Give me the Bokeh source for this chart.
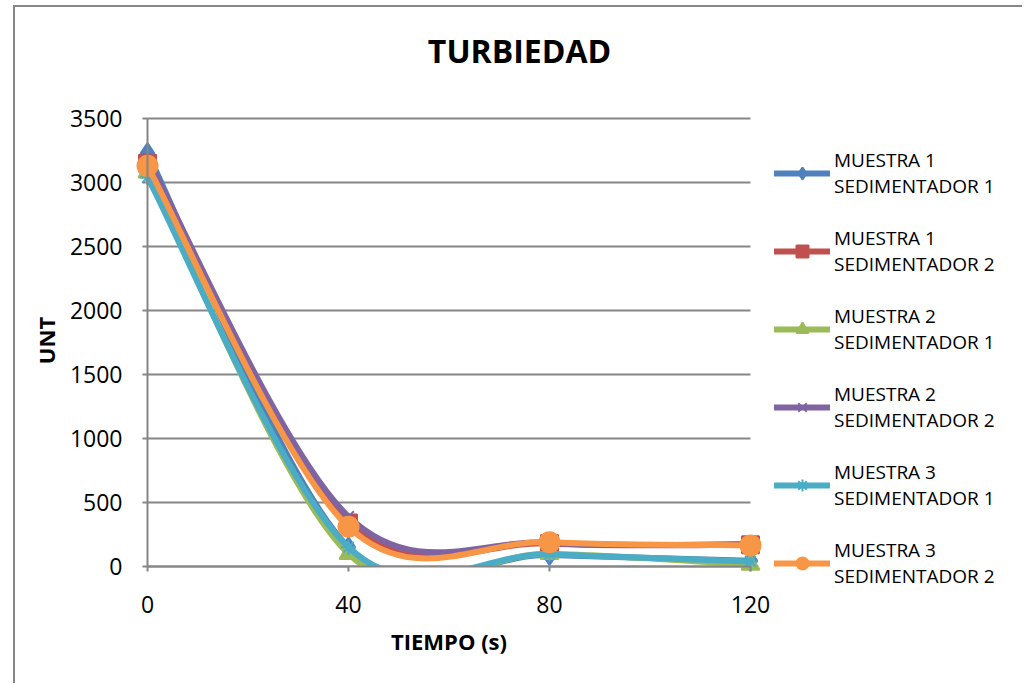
import numpy as np
from bokeh.plotting import figure
from bokeh.models import (Range1d, Legend, LegendItem, FixedTicker, ColumnDataSource, Label,
                          BoxAnnotation)
from bokeh.embed import file_html
from bokeh.resources import INLINE

# ---- data ----
tiempo = [0, 40, 80, 120]
m1_s1 = [3230, 150, 90, 45]
m1_s2 = [3150, 340, 180, 170]
m2_s1 = [3080, 100, 100, 15]
m2_s2 = [3180, 390, 185, 175]
m3_s1 = [3040, 150, 95, 40]
m3_s2 = [3130, 310, 190, 165]
series_labels = ["MUESTRA 1\nSEDIMENTADOR 1", "MUESTRA 1\nSEDIMENTADOR 2",
                 "MUESTRA 2\nSEDIMENTADOR 1", "MUESTRA 2\nSEDIMENTADOR 2",
                 "MUESTRA 3\nSEDIMENTADOR 1", "MUESTRA 3\nSEDIMENTADOR 2"]
x_ticks = [0, 40, 80, 120]
y_ticks = [0, 500, 1000, 1500, 2000, 2500, 3000, 3500]
title_text = "TURBIEDAD"
x_title = "TIEMPO (s)"
y_title = "UNT"

series = [m1_s1, m1_s2, m2_s1, m2_s2, m3_s1, m3_s2]
colors = ["#4F81BD", "#C0504D", "#9BBB59", "#8064A2", "#4BACC6", "#F79646"]
markers = ["diamond", "square", "triangle", "x", "asterisk", "circle"]
msizes = [20, 17, 18, 15, 15, 20]

FONT = "Open Sans"
GRID = "#868686"

# ---- layout (pixels on the canvas) ----
W, H = 1009, 678            # canvas; page offset (15, 7) because of margin + border
PX_L, PX_R = 132, 735       # where x = 0 .. 120 sits
PX_T, PX_B = 111, 559       # where y = 3500 .. 0 sits
x0v, x1v = x_ticks[0], x_ticks[-1]
y0v, y1v = y_ticks[0], y_ticks[-1]
sx = (x1v - x0v) / (PX_R - PX_L)
sy = (y1v - y0v) / (PX_B - PX_T)
X_START, X_END = x0v - PX_L * sx, x1v + (W - PX_R) * sx
Y_START, Y_END = y0v - (H - PX_B) * sy, y1v + PX_T * sy


def smooth_segments(x, y):
    """Excel-style smoothed line: cubic Bezier control points from neighbours."""
    x = np.asarray(x, float)
    y = np.asarray(y, float)
    n = len(x)
    xp = np.concatenate([[x[0]], x, [x[-1]]])
    yp = np.concatenate([[y[0]], y, [y[-1]]])
    return dict(
        x0=x[:-1], y0=y[:-1], x1=x[1:], y1=y[1:],
        cx0=xp[1:n] + (xp[2:n + 1] - xp[0:n - 1]) / 6.0,
        cy0=yp[1:n] + (yp[2:n + 1] - yp[0:n - 1]) / 6.0,
        cx1=xp[2:n + 1] - (xp[3:n + 2] - xp[1:n]) / 6.0,
        cy1=yp[2:n + 1] - (yp[3:n + 2] - yp[1:n]) / 6.0,
    )


p = figure(width=W, height=H, title=None,
           x_range=Range1d(X_START, X_END), y_range=Range1d(Y_START, Y_END),
           output_backend="svg", toolbar_location=None,
           min_border_left=0, min_border_right=0, min_border_top=0, min_border_bottom=0)
p.margin = (5, 0, 0, 13)
p.styles = {"border-left": "2px solid #878787", "border-top": "2px solid #878787"}
p.background_fill_color = "white"
p.border_fill_color = "white"
p.outline_line_color = None

p.xgrid.grid_line_color = None
p.ygrid.grid_line_color = GRID
p.ygrid.grid_line_width = 2
p.ygrid.cross_bounds = (x0v, x1v)

for ax in (p.xaxis[0], p.yaxis[0]):
    ax.axis_line_color = GRID
    ax.axis_line_width = 2
    ax.major_tick_line_color = GRID
    ax.major_tick_line_width = 2
    ax.major_tick_in = 0
    ax.major_tick_out = 5
    ax.minor_tick_line_color = None
    ax.major_label_text_font = FONT
    ax.major_label_text_font_size = "23px"
    ax.major_label_text_color = "black"
    ax.fixed_location = 0
    ax.level = "overlay"

p.xaxis.bounds = (x0v, x1v)
p.yaxis.bounds = (y0v, y1v)
p.xaxis.ticker = FixedTicker(ticks=x_ticks)
p.yaxis.ticker = FixedTicker(ticks=y_ticks)
p.xaxis.major_label_standoff = 24
p.yaxis.major_label_standoff = 20

items = []
for vals, lab, col, mk, ms in zip(series, series_labels, colors, markers, msizes):
    src = ColumnDataSource(smooth_segments(tiempo, vals))
    r_line = p.bezier(x0="x0", y0="y0", x1="x1", y1="y1", cx0="cx0", cy0="cy0",
                      cx1="cx1", cy1="cy1", source=src, line_color=col, line_width=6,
                      line_cap="round")
    pts = ColumnDataSource(dict(x=tiempo, y=vals))
    r_pts = p.scatter(x="x", y="y", source=pts, marker=mk, size=ms, fill_color=col,
                      line_color=col, line_width=2)
    items.append(LegendItem(label=lab, renderers=[r_line, r_pts]))

# the plot area ends at y = 0: hide the smoothed curves where they dip below it
p.add_layout(BoxAnnotation(left=x_ticks[1], right=x_ticks[2], top=y0v, bottom=Y_START,
                           fill_color="white", fill_alpha=1.0, line_color=None,
                           level="annotation"))

legend = Legend(items=items, location=(759, 96), orientation="vertical")
legend.background_fill_alpha = 0
legend.border_line_color = None
legend.label_text_font = FONT
legend.label_text_font_size = "19px"
legend.label_text_color = "black"
legend.glyph_width = 56
legend.glyph_height = 30
legend.label_standoff = 4
legend.spacing = 26
legend.padding = 0
legend.margin = 0
p.add_layout(legend, "center")

# chart title and axis titles (screen px from the canvas' bottom-left)
p.add_layout(Label(x=504, y=H - 43, x_units="screen", y_units="screen", text=title_text,
                   text_font=FONT, text_font_size="32px", text_font_style="bold",
                   text_align="center", text_baseline="middle", text_color="black"))
p.add_layout(Label(x=(PX_L + PX_R) / 2, y=H - 633, x_units="screen", y_units="screen",
                   text=x_title, text_font=FONT, text_font_size="22px",
                   text_font_style="bold", text_align="center", text_baseline="middle",
                   text_color="black"))
p.add_layout(Label(x=30, y=H - 333, x_units="screen", y_units="screen", text=y_title,
                   angle=np.pi / 2, text_font=FONT, text_font_size="22px",
                   text_font_style="bold", text_align="center", text_baseline="middle",
                   text_color="black"))

open("out.html", "w").write(file_html(p, INLINE))
